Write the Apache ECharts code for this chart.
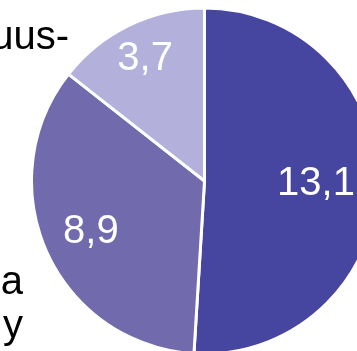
<!DOCTYPE html>
<html>
<head>
<meta charset="utf-8">
<script src="https://cdn.jsdelivr.net/npm/echarts@6/dist/echarts.min.js"></script>
<style>
html,body{margin:0;padding:0;background:#fff;}
#c{width:357px;height:351px;}
</style>
</head>
<body>
<div id="c"></div>
<script>
// Data
var categories = ['A', 'B', 'C'];
var values = [13.1, 8.9, 3.7];
var valueLabels = ['13,1', '8,9', '3,7'];
var sideTexts = ['uus-', 'a', 'y'];

// Styles / layout
var colors = ['#46459F', '#716BAE', '#B3B0DC'];
var labelRadiusFactor = [0.645, 0.72, 0.785];
var CX = 204.5, CY = 181, R = 173;
var FONT = '"Liberation Sans", Arial, sans-serif';

var chart = echarts.init(document.getElementById('c'));
chart.setOption({
  animation: false,
  backgroundColor: '#ffffff',
  series: [{
    type: 'pie',
    center: [CX, CY],
    radius: [0, R],
    startAngle: 90,
    clockwise: true,
    avoidLabelOverlap: false,
    itemStyle: { borderColor: '#ffffff', borderWidth: 3 },
    label: {
      show: true,
      position: 'inside',
      color: '#ffffff',
      fontFamily: FONT,
      fontSize: 40,
      formatter: function (p) { return valueLabels[p.dataIndex]; }
    },
    labelLine: { show: false },
    labelLayout: function (p) {
      var lr = p.labelRect;
      var lx = lr.x + lr.width / 2, ly = lr.y + lr.height / 2;
      var vx = lx - CX, vy = ly - CY;
      var d = Math.sqrt(vx * vx + vy * vy) || 1;
      var f = labelRadiusFactor[p.dataIndex] * R;
      return { dx: CX + vx / d * f - lx, dy: CY + vy / d * f - ly };
    },
    emphasis: { disabled: true },
    data: categories.map(function (c, i) {
      return { name: c, value: values[i], itemStyle: { color: colors[i] } };
    })
  }],
  graphic: [
    { type: 'text', right: 357 - 69, top: 18, style: { text: sideTexts[0], font: '40px ' + FONT, fill: '#000' } },
    { type: 'text', right: 357 - 23, top: 263, style: { text: sideTexts[1], font: '40px ' + FONT, fill: '#000' } },
    { type: 'text', right: 357 - 23, top: 307, style: { text: sideTexts[2], font: '40px ' + FONT, fill: '#000' } }
  ]
});
</script>
</body>
</html>
